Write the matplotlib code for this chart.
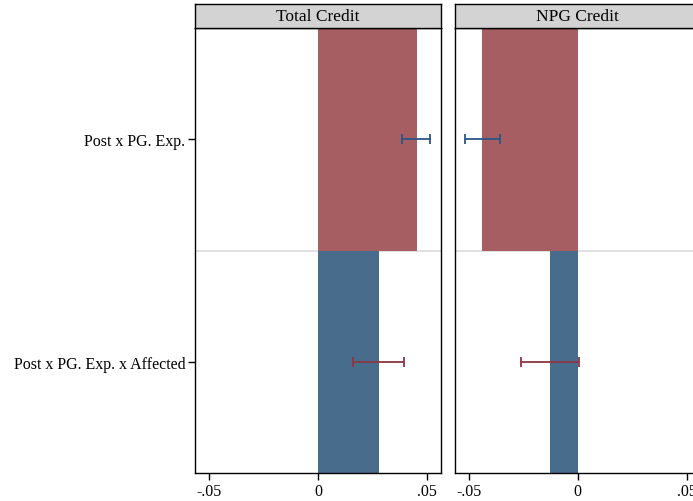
import matplotlib
matplotlib.use('Agg')
import matplotlib.pyplot as plt

plt.rcParams['font.family'] = ['Liberation Serif', 'DejaVu Serif']

# data
panels = ['Total Credit', 'NPG Credit']
terms = ['Post x PG. Exp.', 'Post x PG. Exp. x Affected']
coef = {'Total Credit': [0.0454, 0.0278], 'NPG Credit': [-0.0437, -0.0125]}
ci_lo = {'Total Credit': [0.0384, 0.0159], 'NPG Credit': [-0.0517, -0.0258]}
ci_hi = {'Total Credit': [0.0516, 0.0394], 'NPG Credit': [-0.0358, 0.0005]}
xticks = [-0.05, 0, 0.05]
xticklabels = ['-.05', '0', '.05']

bar_colors = ['#a65e62', '#486c8c']
err_colors = ['#2a5685', '#8c3443']

fig = plt.figure(figsize=(6.93, 5.02), dpi=100)
W, H = 693, 502
lefts = [195, 454.7]
ax_w = 245.7
top, bottom = 29, 474

for i, name in enumerate(panels):
    ax = fig.add_axes([lefts[i] / W, (H - bottom) / H, ax_w / W, (bottom - top) / H])
    ypos = [0, 1]
    for j in range(len(terms)):
        ax.barh(ypos[j], coef[name][j], height=1.0, color=bar_colors[j], zorder=2)
        lo, hi = ci_lo[name][j], ci_hi[name][j]
        c = (lo + hi) / 2
        ax.errorbar(c, ypos[j], xerr=[[c - lo], [hi - c]], fmt='none',
                    ecolor=err_colors[j], elinewidth=1.3, capsize=3.5, capthick=1.3, zorder=3)
    ax.axhline(0.5, color='#dcdcdc', lw=1.2, zorder=1)
    ax.set_ylim(1.5, -0.5)
    ax.set_xlim(-0.0564, 0.0563)
    ax.set_xticks(xticks)
    ax.set_xticklabels(xticklabels, fontsize=11.5)
    ax.tick_params(axis='x', length=5, width=1, direction='out', pad=2)
    if i == 0:
        ax.set_yticks(ypos)
        ax.set_yticklabels(terms, fontsize=11.5)
        ax.tick_params(axis='y', length=5, width=1, direction='out', pad=2)
    else:
        ax.set_yticks([])
    for s in ax.spines.values():
        s.set_color('black')
        s.set_linewidth(1)

    # strip header
    sx = fig.add_axes([lefts[i] / W, (H - 28.5) / H, ax_w / W, 23.5 / H])
    sx.set_facecolor('#d3d3d3')
    sx.set_xticks([])
    sx.set_yticks([])
    for s in sx.spines.values():
        s.set_color('black')
        s.set_linewidth(1)
    sx.text(0.5, 0.5, name, ha='center', va='center', fontsize=12.5, transform=sx.transAxes)

fig.savefig('out.png', dpi=100)
